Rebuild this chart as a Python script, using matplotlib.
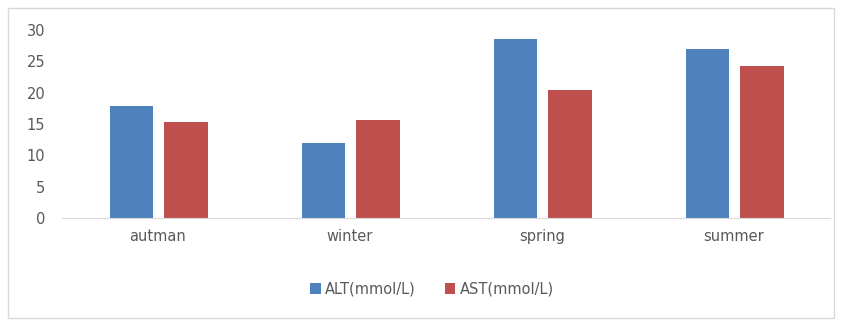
import numpy as np
import matplotlib.pyplot as plt
from matplotlib.patches import Rectangle

# datos
estaciones = ['autman', 'winter', 'spring', 'summer']
alt = [17.8, 12.0, 28.6, 27.0]
ast = [15.3, 15.6, 20.5, 24.3]
series = ['ALT(mmol/L)', 'AST(mmol/L)']

gris = '#595959'
fig = plt.figure(figsize=(8.42, 3.22), dpi=100)
fig.patches.append(Rectangle((8/842, 4/322), 826/842, 310/322, transform=fig.transFigure,
                             fill=False, edgecolor='#d9d9d9', linewidth=1))
ax = fig.add_axes([62/842, 1 - 218/322, 768/842, 188/322])

x = np.arange(len(estaciones))
ancho = 0.225
ax.bar(x - 0.138, alt, ancho, color='#4f81bd', label=series[0])
ax.bar(x + 0.146, ast, ancho, color='#c0504d', label=series[1])

ax.set_xlim(-0.5, 3.5)
ax.set_ylim(0, 30)
ax.set_yticks(range(0, 31, 5))
ax.set_xticks(x)
ax.set_xticklabels(estaciones)
ax.tick_params(length=0, colors=gris, labelsize=10.5)
ax.tick_params(axis='x', pad=8)
ax.tick_params(axis='y', pad=12)
for s in ['top', 'right', 'left']:
    ax.spines[s].set_visible(False)
ax.spines['bottom'].set_color('#d9d9d9')

leg = fig.legend(loc='center', bbox_to_anchor=(432/842, 1 - 289/322), ncol=2, frameon=False,
                 fontsize=10.5, handlelength=0.7, handleheight=0.7, handletextpad=0.3,
                 columnspacing=2.0)
for t in leg.get_texts():
    t.set_color(gris)

plt.savefig('out.png', dpi=100)
